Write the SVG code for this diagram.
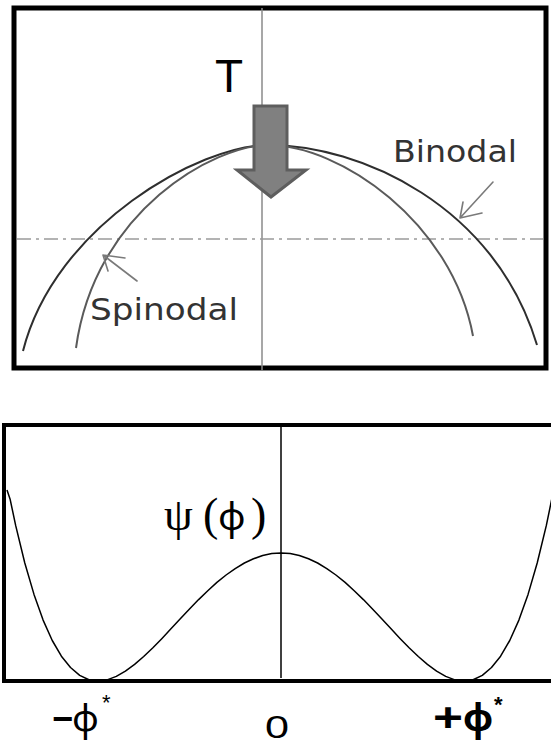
<svg xmlns="http://www.w3.org/2000/svg" width="551" height="746" viewBox="0 0 551 746">
<style>
.frame{fill:none;stroke:#000;stroke-width:5}
.axis{stroke:#8a8a8a;stroke-width:1.5}
.dash{stroke:#9a9a9a;stroke-width:1.5;stroke-dasharray:14 5 3 5}
.bin{fill:none;stroke:#2e2e2e;stroke-width:2}
.spin{fill:none;stroke:#5a5a5a;stroke-width:2}
.ptr{fill:none;stroke:#7a7a7a;stroke-width:1.6;stroke-linecap:round;stroke-linejoin:round}
.lbl{font-family:"DejaVu Sans","Noto Sans",sans-serif;font-size:31px;fill:#333}
.serif{font-family:"Liberation Serif","DejaVu Serif",serif;fill:#000}
.sans{font-family:"Liberation Sans",Arial,sans-serif;fill:#000}
.phi{font-family:"Noto Sans","DejaVu Sans",sans-serif;fill:#000}
.curve{fill:none;stroke:#000;stroke-width:1.5;stroke-linejoin:round}
</style>
<rect width="551" height="746" fill="#fff"/>

<g id="top-panel">
  <rect class="frame" x="14" y="8" width="532" height="360"/>
  <line class="axis" x1="262" y1="8" x2="262" y2="370"/>
  <line class="dash" x1="17" y1="239" x2="543" y2="239"/>
</g>

<g id="binodal-curve">
  <path class="bin" d="M23,351 C55,225 200,145 268,145 C360,145 495,205 537,345"/>
</g>
<g id="spinodal-curve">
  <path class="spin" d="M76,348 C95,210 215,145 268,145 C340,145 452,222 473,336"/>
</g>

<g id="T-arrow">
  <polygon points="254,106 287,106 287,170 306,170 271,197 237,170 254,170" fill="#808080" stroke="#5e5e5e" stroke-width="3" stroke-linejoin="miter"/>
  <text class="sans" x="215" y="92" font-size="46">T</text>
</g>

<g id="connectors">
  <path class="ptr" d="M493,182 L460,218 M463,202 L460,218 L482,213"/>
  <path class="ptr" d="M137,281 L103,255 M125,258 L103,255 L108,271"/>
</g>

<g id="binodal-label">
  <text class="lbl" x="393" y="162" textLength="124" lengthAdjust="spacingAndGlyphs">Binodal</text>
</g>
<g id="spinodal-label">
  <text class="lbl" x="90" y="320" textLength="148" lengthAdjust="spacingAndGlyphs">Spinodal</text>
</g>

<g id="bottom-panel">
  <path d="M551,425 L4,425 L4,681 L551,681" fill="none" stroke="#000" stroke-width="4"/>
  <line x1="281" y1="425" x2="281" y2="678" stroke="#000" stroke-width="1.5"/>
</g>

<g id="potential-curve">
  <polyline class="curve" points="7,490 10.2,499.6 15.65,525.4 24.8,563 34,594.4 43.1,620.1 52.25,640.5 61.4,656.2 70.5,667.5 79.7,675.4 88.9,679.7 98,681 107.1,679.9 116.3,676.4 125.4,671.1 134.6,664.4 143.7,656.5 152.9,647.7 162,638.4 171.2,628.6 180.3,618.8 189.5,609 198.6,599.6 207.8,590.7 216.9,582.4 226.1,575 235.2,568.6 244.4,563 253.5,558.8 262.7,555.5 271.8,553.6 281,553 290.2,553.6 299.3,555.5 308.5,558.8 317.6,563 326.8,568.6 335.9,575 345.1,582.4 354.2,590.7 363.4,599.6 372.5,609 381.7,618.8 390.8,628.6 400,638.4 409.1,647.7 418.3,656.5 427.4,664.4 436.6,671.1 445.7,676.4 454.9,679.9 464,681 473.1,679.7 482.3,675.4 491.5,667.5 500.6,656.2 509.75,640.5 518.9,620.1 528.05,594.4 537.2,563 546.35,525.4 555.5,481"/>
</g>

<g id="psi-label">
  <text class="serif" y="530" font-size="46"><tspan x="164">ψ</tspan><tspan x="203">(</tspan><tspan class="phi" x="218" font-size="38">φ</tspan><tspan x="251">)</tspan></text>
</g>

<g id="tick-labels">
  <text y="731"><tspan class="sans" x="52" font-size="36" font-weight="bold">−</tspan><tspan class="phi" x="72" font-size="37">φ</tspan><tspan class="sans" x="102" y="710" font-size="22">*</tspan></text>
  <text class="sans" font-size="32" transform="translate(265,738) scale(1.35,1)">0</text>
  <text y="731"><tspan class="sans" x="433" font-size="40" font-weight="bold" textLength="30" lengthAdjust="spacingAndGlyphs">+</tspan><tspan class="phi" x="463" font-size="37" font-weight="bold">φ</tspan><tspan class="sans" x="494" y="712" font-size="22" font-weight="bold">*</tspan></text>
</g>
</svg>
